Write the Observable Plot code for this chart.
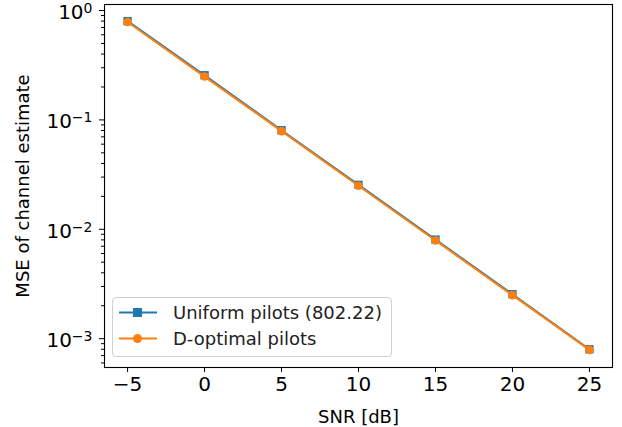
<!DOCTYPE html>
<html>
<head>
<meta charset="utf-8">
<script src="https://cdn.jsdelivr.net/npm/d3@7"></script>
<script src="https://cdn.jsdelivr.net/npm/@observablehq/plot@0.6"></script>
<style>
  html, body { margin: 0; padding: 0; background: #fff; }
  #wrap { position: relative; width: 622px; height: 427px; font-family: "DejaVu Sans", sans-serif; }
  #wrap svg { overflow: visible; }
  #legend {
    position: absolute; left: 112px; top: 297px; width: 280px; height: 60px;
    border: 1px solid #d0d0d0; border-radius: 4px; background: rgba(255,255,255,0.8);
    box-sizing: border-box; font-size: 18px; color: #222;
  }
  .entry { position: absolute; left: 5px; display: flex; align-items: center; }
  .entry span { margin-left: 15px; }
</style>
</head>
<body>
<div id="wrap"></div>
<script>
const snr = [-5, 0, 5, 10, 15, 20, 25];
const uniform = [0.80, 0.256, 0.0805, 0.0255, 0.00805, 0.00255, 0.000800];
const doptimal = [0.785, 0.249, 0.0790, 0.0250, 0.00790, 0.00250, 0.000790];
const seriesNames = ["Uniform pilots (802.22)", "D-optimal pilots"];
const colors = ["#1f77b4", "#ff7f0e"];
const xTicks = [-5, 0, 5, 10, 15, 20, 25];
const yTicks = [1e-3, 1e-2, 1e-1, 1];

const uData = snr.map((s, i) => ({snr: s, mse: uniform[i]}));
const dData = snr.map((s, i) => ({snr: s, mse: doptimal[i]}));

const minorTicks = [];
for (const e of [-4, -3, -2, -1, 0]) for (let k = 2; k <= 9; k++) {
  const v = k * Math.pow(10, e);
  if (v > 5.45e-4 && v < 1.135) minorTicks.push(v);
}

const chart = Plot.plot({
  width: 622,
  height: 427,
  marginLeft: 104,
  marginRight: 10,
  marginTop: 4,
  marginBottom: 60,
  style: {fontFamily: "DejaVu Sans, sans-serif", color: "#000", background: "#fff"},
  x: {domain: [-6.5, 26.5]},
  y: {type: "log", domain: [5.45e-4, 1.135]},
  marks: [
    Plot.axisX({ticks: xTicks, tickFormat: d3.format("d"), tickSize: 5, tickPadding: 4, fontSize: 20,
      label: "SNR [dB]", labelAnchor: "center", labelArrow: "none", labelOffset: 55}),
    Plot.axisY({ticks: minorTicks, tickSize: 3, tickFormat: () => "", label: null}),
    Plot.axisY({ticks: yTicks, tickSize: 5, tickPadding: 7, fontSize: 20,
      tickFormat: d => "10^" + Math.round(Math.log10(d)),
      label: "MSE of channel estimate", labelAnchor: "center", labelArrow: "none", labelOffset: 88}),
    Plot.frame({stroke: "#000", strokeWidth: 1.1}),
    Plot.line(uData, {x: "snr", y: "mse", stroke: colors[0], strokeWidth: 2}),
    Plot.dot(uData, {x: "snr", y: "mse", fill: colors[0], symbol: "square", r: 4.7}),
    Plot.line(dData, {x: "snr", y: "mse", stroke: colors[1], strokeWidth: 2}),
    Plot.dot(dData, {x: "snr", y: "mse", fill: colors[1], symbol: "circle", r: 4.3})
  ]
});

// superscript exponents on y tick labels
d3.select(chart).selectAll("g[aria-label='y-axis tick label'] text").each(function() {
  const t = this.textContent;
  if (!t.startsWith("10^")) return;
  const exp = t.slice(3).replace("-", "−");
  const el = d3.select(this);
  el.text("10");
  el.attr("dy", "0.1em");
  el.append("tspan").attr("dy", "-0.42em").attr("font-size", "0.7em").text(exp);
});
d3.select(chart).selectAll("g[aria-label='x-axis label'] text, g[aria-label='y-axis label'] text")
  .attr("font-size", 18);

const wrap = document.getElementById("wrap");
wrap.appendChild(chart);

const legend = document.createElement("div");
legend.id = "legend";
seriesNames.forEach((name, i) => {
  const row = document.createElement("div");
  row.className = "entry";
  row.style.top = (i === 0 ? 4 : 30) + "px";
  const marker = i === 0
    ? `<rect x="15" y="5" width="9" height="9" fill="${colors[i]}"/>`
    : `<circle cx="19.5" cy="9.5" r="4.5" fill="${colors[i]}"/>`;
  row.innerHTML = `<svg width="40" height="19"><line x1="1" y1="9.5" x2="39" y2="9.5" stroke="${colors[i]}" stroke-width="2"/>${marker}</svg><span>${name}</span>`;
  legend.appendChild(row);
});
wrap.appendChild(legend);
</script>
</body>
</html>
